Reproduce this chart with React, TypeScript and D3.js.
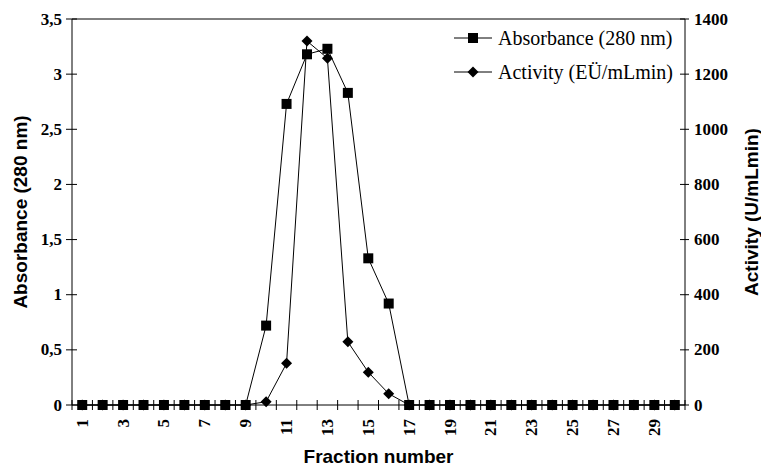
import React from "react";
import * as d3 from "d3";

const fractions = [
  1, 2, 3, 4, 5, 6, 7, 8, 9, 10, 11, 12, 13, 14, 15,
  16, 17, 18, 19, 20, 21, 22, 23, 24, 25, 26, 27, 28, 29, 30,
];
const absorbance = [
  0, 0, 0, 0, 0, 0, 0, 0, 0, 0.72, 2.73, 3.18, 3.23, 2.83, 1.33,
  0.92, 0, 0, 0, 0, 0, 0, 0, 0, 0, 0, 0, 0, 0, 0,
];
const activity = [
  0, 0, 0, 0, 0, 0, 0, 0, 0, 12, 151, 1320, 1258, 229, 119,
  41, 0, 0, 0, 0, 0, 0, 0, 0, 0, 0, 0, 0, 0, 0,
];
const absTicks = [0, 0.5, 1, 1.5, 2, 2.5, 3, 3.5];
const actTicks = [0, 200, 400, 600, 800, 1000, 1200, 1400];
const xLabels = [1, 3, 5, 7, 9, 11, 13, 15, 17, 19, 21, 23, 25, 27, 29];

const W = 761;
const H = 466;
const L = 72;
const R = 685;
const T = 19;
const B = 405;

const serif = "'Liberation Serif', 'Times New Roman', serif";
const sans = "'Liberation Sans', Arial, sans-serif";

const fmt = (v: number) => String(v).replace(".", ",");

export default function App() {
  const x = d3.scaleBand<number>().domain(fractions).range([L, R]);
  const cx = (f: number) => (x(f) ?? 0) + x.bandwidth() / 2;
  const yAbs = d3.scaleLinear().domain([0, 3.5]).range([B, T]);
  const yAct = d3.scaleLinear().domain([0, 1400]).range([B, T]);

  const absLine = d3
    .line<number>()
    .x((_, i) => cx(fractions[i]))
    .y((d) => yAbs(d));
  const actLine = d3
    .line<number>()
    .x((_, i) => cx(fractions[i]))
    .y((d) => yAct(d));

  const square = d3.symbol(d3.symbolSquare, 100)();
  const diamond = (s: number) => `M0,${-s}L${s},0L0,${s}L${-s},0Z`;

  // band boundaries for the category ticks
  const bounds = fractions.map((f) => x(f) ?? 0).concat([R]);

  return (
    <svg
      width={W}
      height={H}
      style={{ position: "absolute", left: 0, top: 0, background: "#fff" }}
    >
      {/* frame: top edge and both value axes */}
      <line x1={L} x2={R} y1={T} y2={T} stroke="#000" />
      <line x1={L} x2={L} y1={T} y2={B} stroke="#000" />
      <line x1={R} x2={R} y1={T} y2={B} stroke="#000" />

      {/* left axis */}
      {absTicks.map((t) => (
        <g key={"a" + t}>
          <line x1={L - 6} x2={L + 5} y1={yAbs(t)} y2={yAbs(t)} stroke="#000" />
          <text
            x={L - 10}
            y={yAbs(t)}
            textAnchor="end"
            dominantBaseline="central"
            fontFamily={serif}
            fontWeight="bold"
            fontSize={17}
          >
            {fmt(t)}
          </text>
        </g>
      ))}

      {/* right axis */}
      {actTicks.map((t) => (
        <g key={"r" + t}>
          <line x1={R - 5} x2={R + 4} y1={yAct(t)} y2={yAct(t)} stroke="#000" />
          <text
            x={R + 9}
            y={yAct(t)}
            dominantBaseline="central"
            fontFamily={serif}
            fontWeight="bold"
            fontSize={17}
          >
            {t}
          </text>
        </g>
      ))}

      {/* x axis */}
      <line x1={L} x2={R} y1={B} y2={B} stroke="#000" />
      {bounds.map((b, i) => (
        <line key={"xt" + i} x1={b} x2={b} y1={B - 5} y2={B + 5} stroke="#000" />
      ))}
      {xLabels.map((f) => (
        <text
          key={"xl" + f}
          transform={`translate(${cx(f)},${B + 14}) rotate(-90)`}
          textAnchor="end"
          dominantBaseline="central"
          fontFamily={serif}
          fontWeight="bold"
          fontSize={17}
        >
          {f}
        </text>
      ))}

      {/* series */}
      <path d={absLine(absorbance) ?? ""} fill="none" stroke="#000" strokeWidth={1} />
      <path d={actLine(activity) ?? ""} fill="none" stroke="#000" strokeWidth={1} />
      {absorbance.map((v, i) => (
        <path
          key={"s" + i}
          d={square ?? ""}
          transform={`translate(${cx(fractions[i])},${yAbs(v)})`}
          fill="#000"
        />
      ))}
      {activity.map((v, i) => (
        <path
          key={"d" + i}
          d={diamond(5.5)}
          transform={`translate(${cx(fractions[i])},${yAct(v)})`}
          fill="#000"
        />
      ))}

      {/* legend */}
      <g fontFamily={serif} fontSize={20}>
        <line x1={454} x2={492} y1={38} y2={38} stroke="#000" />
        <path d={square ?? ""} transform="translate(473,38)" fill="#000" />
        <text x={498} y={38} dominantBaseline="central">
          Absorbance (280 nm)
        </text>
        <line x1={454} x2={492} y1={72} y2={72} stroke="#000" />
        <path d={diamond(5.5)} transform="translate(473,72)" fill="#000" />
        <text x={498} y={72} dominantBaseline="central">
          Activity (EÜ/mLmin)
        </text>
      </g>

      {/* axis titles */}
      <text
        x={(L + R) / 2}
        y={456}
        textAnchor="middle"
        dominantBaseline="central"
        fontFamily={sans}
        fontWeight="bold"
        fontSize={19}
      >
        Fraction number
      </text>
      <text
        transform={`translate(20,${(T + B) / 2}) rotate(-90)`}
        textAnchor="middle"
        dominantBaseline="central"
        fontFamily={sans}
        fontWeight="bold"
        fontSize={19}
      >
        Absorbance (280 nm)
      </text>
      <text
        transform={`translate(751,${(T + B) / 2}) rotate(-90)`}
        textAnchor="middle"
        dominantBaseline="central"
        fontFamily={sans}
        fontWeight="bold"
        fontSize={19}
      >
        Activity (U/mLmin)
      </text>
    </svg>
  );
}
